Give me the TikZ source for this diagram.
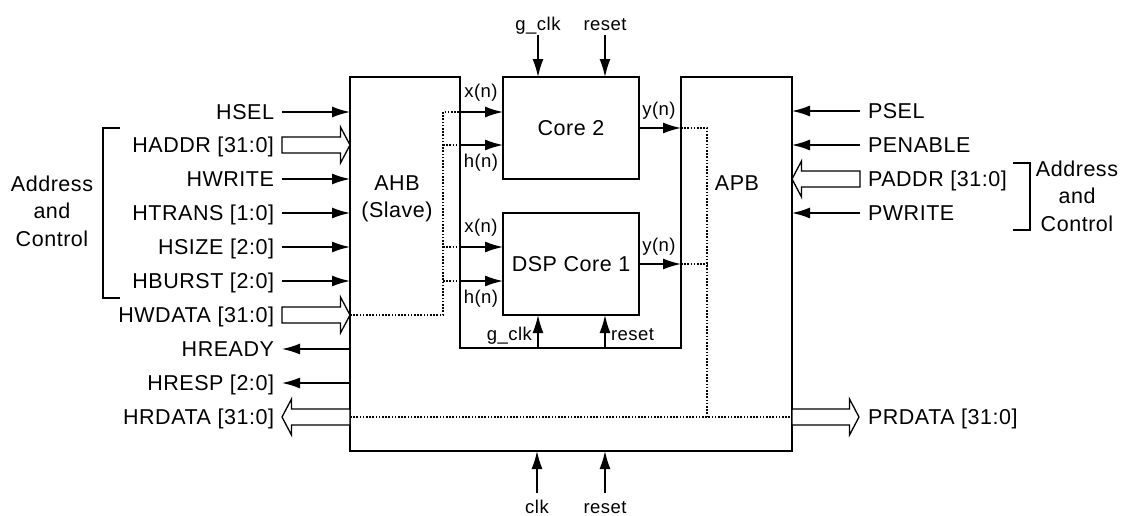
\documentclass[tikz,border=0pt]{standalone}
\usepackage{fontspec}
\setmainfont[LetterSpace=2.5]{Liberation Sans}
\usetikzlibrary{arrows.meta}
\begin{document}
\begin{tikzpicture}[x=1pt,y=-1pt,
  every node/.style={inner sep=0pt, outer sep=0pt},
  big/.style={font=\fontsize{21.5}{27.5}\selectfont},
  small/.style={font=\fontsize{18.5}{20}\selectfont},
  lbl/.style={big, inner xsep=8pt, text height=15.4pt, text depth=0pt},
  sig/.style={line width=1.5pt, -{Latex[length=18pt,width=11pt]}},
  blk/.style={line width=1.5pt},
  bus/.style={line width=1.3pt, fill=white, line join=miter},
  dot/.style={line width=1.1pt, dash pattern=on 1.6pt off 1.6pt},
  brk/.style={line width=1.3pt},
  core/.style={draw, line width=1.5pt, minimum width=136pt, minimum height=102pt, big}
]
\useasboundingbox (0,0) rectangle (1122,515);
\newcommand{\busR}[3]{\draw[bus] (#1,#3-8) -- (#2-9.5,#3-8) -- (#2-9.5,#3-18) -- (#2,#3) -- (#2-9.5,#3+18) -- (#2-9.5,#3+8) -- (#1,#3+8) -- cycle;}
\newcommand{\busL}[3]{\draw[bus] (#1,#3-8) -- (#2+9.5,#3-8) -- (#2+9.5,#3-18) -- (#2,#3) -- (#2+9.5,#3+18) -- (#2+9.5,#3+8) -- (#1,#3+8) -- cycle;}

% outline of AHB / APB block
\coordinate (o1) at (350,77);
\coordinate (o2) at (460,77);
\coordinate (o3) at (460,348);
\coordinate (o4) at (681,348);
\coordinate (o5) at (681,77);
\coordinate (o6) at (792,77);
\coordinate (o7) at (792,451);
\coordinate (o8) at (350,451);
\draw[blk] (o1) -- (o2) -- (o3) -- (o4) -- (o5) -- (o6) -- (o7) -- (o8) -- cycle;

\node[big, align=center] (ahb) at (397,199) {AHB\\(Slave)};
\node[big] (apb) at (737,183) {APB};

% cores
\node[core] (core2) at (571,128) {Core 2};
\node[core] (dsp) at (571,264) {DSP Core 1};

% dotted internal routing
\coordinate (d1) at (443,315);
\coordinate (d2) at (443,112);
\draw[dot] (350,315) -- (d1) -- (d2) -- (460,112);
\draw[dot] (443,145) -- (460,145);
\draw[dot] (443,247) -- (460,247);
\draw[dot] (443,281) -- (460,281);
\draw[dot] (681,128) -- (707,128) -- (707,417);
\draw[dot] (681,264) -- (707,264);
\draw[dot] (350,417) -- (792,417);

% core inputs
\coordinate (c2x) at (460,112);
\coordinate (c2h) at (460,145);
\coordinate (c1x) at (460,247);
\coordinate (c1h) at (460,281);
\draw[sig] (c2x) -- (core2.west |- c2x);
\draw[sig] (c2h) -- (core2.west |- c2h);
\draw[sig] (c1x) -- (dsp.west |- c1x);
\draw[sig] (c1h) -- (dsp.west |- c1h);
\node[small] (lx2) at (481,93) {x(n)};
\node[small] (lh2) at (481,163) {h(n)};
\node[small] (lx1) at (481,228) {x(n)};
\node[small] (lh1) at (481,299) {h(n)};

% core outputs
\coordinate (c2y) at (681,128);
\coordinate (c1y) at (681,264);
\draw[sig] (core2.east |- c2y) -- (c2y);
\draw[sig] (dsp.east |- c1y) -- (c1y);
\node[small] (ly2) at (659,111) {y(n)};
\node[small] (ly1) at (659,247) {y(n)};

% core 2 clock / reset
\node[small, anchor=base] (gclk2) at (538,30.5) {g\_clk};
\node[small, anchor=base] (rst2) at (605,30.5) {reset};
\coordinate (g2s) at (538,35);
\coordinate (r2s) at (605,35);
\draw[sig] (g2s) -- (core2.north -| g2s);
\draw[sig] (r2s) -- (core2.north -| r2s);

% DSP core clock / reset
\coordinate (g1s) at (538,348);
\coordinate (r1s) at (605,348);
\draw[sig] (g1s) -- (dsp.south -| g1s);
\draw[sig] (r1s) -- (dsp.south -| r1s);
\node[small, anchor=base east] (gclk1) at (532,340) {g\_clk};
\node[small, anchor=base west] (rst1) at (611,340) {reset};

% global clock / reset
\node[small, anchor=base] (clk) at (537,513) {clk};
\node[small, anchor=base] (rst) at (605,513) {reset};
\coordinate (gcs) at (537,493);
\coordinate (grs) at (605,493);
\coordinate (gce) at (537,451);
\coordinate (gre) at (605,451);
\draw[sig] (gcs) -- (gce);
\draw[sig] (grs) -- (gre);

% AHB inputs
\node[lbl, anchor=east] (hsel)   at (282,112) {HSEL};
\node[lbl, anchor=east] (haddr)  at (282,145) {HADDR [31:0]};
\node[lbl, anchor=east] (hwrite) at (282,179) {HWRITE};
\node[lbl, anchor=east] (htrans) at (282,213) {HTRANS [1:0]};
\node[lbl, anchor=east] (hsize)  at (282,247) {HSIZE [2:0]};
\node[lbl, anchor=east] (hburst) at (282,281) {HBURST [2:0]};
\node[lbl, anchor=east] (hwdata) at (282,315) {HWDATA [31:0]};
\node[lbl, anchor=east] (hready) at (282,349) {HREADY};
\node[lbl, anchor=east] (hresp)  at (282,383) {HRESP [2:0]};
\node[lbl, anchor=east] (hrdata) at (282,417) {HRDATA [31:0]};
\coordinate (a1) at (350,112);
\coordinate (a3) at (350,179);
\coordinate (a4) at (350,213);
\coordinate (a5) at (350,247);
\coordinate (a6) at (350,281);
\coordinate (a8) at (350,349);
\coordinate (a9) at (350,383);
\draw[sig] (hsel.east) -- (a1);
\draw[sig] (hwrite.east) -- (a3);
\draw[sig] (htrans.east) -- (a4);
\draw[sig] (hsize.east) -- (a5);
\draw[sig] (hburst.east) -- (a6);
\draw[sig] (a8) -- (hready.east);
\draw[sig] (a9) -- (hresp.east);
\busR{282}{350}{145}
\busR{282}{350}{315}
\busL{350}{282}{417}

% APB side
\node[lbl, anchor=west] (psel)    at (860,111) {PSEL};
\node[lbl, anchor=west] (penable) at (860,145) {PENABLE};
\node[lbl, anchor=west] (paddr)   at (860,179) {PADDR [31:0]};
\node[lbl, anchor=west] (pwrite)  at (860,213) {PWRITE};
\node[lbl, anchor=west] (prdata)  at (860,417) {PRDATA [31:0]};
\coordinate (p1) at (792,111);
\coordinate (p2) at (792,145);
\coordinate (p4) at (792,213);
\draw[sig] (psel.west) -- (p1);
\draw[sig] (penable.west) -- (p2);
\draw[sig] (pwrite.west) -- (p4);
\busL{860}{792}{179}
\busR{792}{859}{417}

% brackets
\coordinate (bl1) at (120,128);
\coordinate (bl2) at (103,128);
\coordinate (bl3) at (103,298);
\coordinate (bl4) at (120,298);
\draw[brk] (bl1) -- (bl2) -- (bl3) -- (bl4);
\node[big, align=center] (addl) at (52,211) {Address\\and\\Control};
\coordinate (br1) at (1013,163);
\coordinate (br2) at (1030,163);
\coordinate (br3) at (1030,230);
\coordinate (br4) at (1013,230);
\draw[brk] (br1) -- (br2) -- (br3) -- (br4);
\node[big, align=center] (addr) at (1077,196) {Address\\and\\Control};
\end{tikzpicture}
\end{document}
